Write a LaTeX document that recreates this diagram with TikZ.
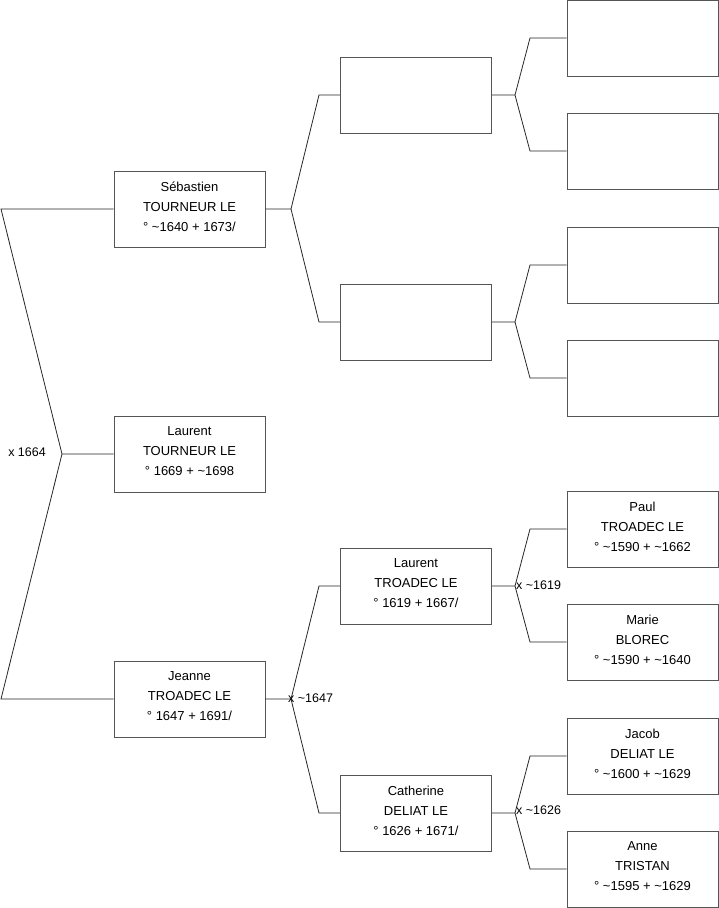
\documentclass[tikz,border=0pt]{standalone}
\usepackage{fontspec}
\setmainfont{Liberation Sans}
\newcommand{\lowpad}{\rule[-5pt]{0pt}{0pt}}
\begin{document}
\begin{tikzpicture}[x=1pt,y=-1pt,
  pbox/.style={draw={rgb,255:red,85;green,85;blue,85},line width=0.9pt,fill=white,
    minimum width=151pt,minimum height=76pt,inner sep=0pt,align=center,
    font=\fontsize{13}{20}\selectfont},
  conn/.style={draw=black!85,line width=0.8pt},
  mlabel/.style={inner sep=0pt,font=\fontsize{12.5}{14}\selectfont}]
\useasboundingbox (0,0) rectangle (719,908);
% generation 0
\node[pbox] (p0) at (189.5,454) {Laurent\\TOURNEUR LE\\° 1669 + \textasciitilde1698\lowpad};
% generation 1
\node[pbox] (p1) at (189.5,209) {Sébastien\\TOURNEUR LE\\° \textasciitilde1640 + 1673/\lowpad};
\node[pbox] (p2) at (189.5,699) {Jeanne\\TROADEC LE\\° 1647 + 1691/\lowpad};
% generation 2
\node[pbox] (p3) at (416,95) {};
\node[pbox] (p4) at (416,322) {};
\node[pbox] (p5) at (416,586) {Laurent\\TROADEC LE\\° 1619 + 1667/\lowpad};
\node[pbox] (p6) at (416,813) {Catherine\\DELIAT LE\\° 1626 + 1671/\lowpad};
% generation 3
\node[pbox] (p7) at (642.5,38) {};
\node[pbox] (p8) at (642.5,151) {};
\node[pbox] (p9) at (642.5,265) {};
\node[pbox] (p10) at (642.5,378) {};
\node[pbox] (p11) at (642.5,529) {Paul\\TROADEC LE\\° \textasciitilde1590 + \textasciitilde1662\lowpad};
\node[pbox] (p12) at (642.5,642) {Marie\\BLOREC\\° \textasciitilde1590 + \textasciitilde1640\lowpad};
\node[pbox] (p13) at (642.5,756) {Jacob\\DELIAT LE\\° \textasciitilde1600 + \textasciitilde1629\lowpad};
\node[pbox] (p14) at (642.5,869) {Anne\\TRISTAN\\° \textasciitilde1595 + \textasciitilde1629\lowpad};
% junction coordinates
\coordinate (v0) at (62,454);
\coordinate (v0a) at (1,209);
\coordinate (v0b) at (1,699);
\coordinate (v1) at (291,209);
\coordinate (v1a) at (319,95);
\coordinate (v1b) at (319,322);
\coordinate (v2) at (291,699);
\coordinate (v2a) at (319,586);
\coordinate (v2b) at (319,813);
\coordinate (v3) at (515,95);
\coordinate (v3a) at (530,38);
\coordinate (v3b) at (530,151);
\coordinate (v4) at (515,322);
\coordinate (v4a) at (530,265);
\coordinate (v4b) at (530,378);
\coordinate (v5) at (515,586);
\coordinate (v5a) at (530,529);
\coordinate (v5b) at (530,642);
\coordinate (v6) at (515,813);
\coordinate (v6a) at (530,756);
\coordinate (v6b) at (530,869);
% connectors
\draw[conn] (p0.west) -- (v0) -- (v0a) -- (p1.west);
\draw[conn] (v0) -- (v0b) -- (p2.west);
\draw[conn] (p1.east) -- (v1) -- (v1a) -- (p3.west);
\draw[conn] (v1) -- (v1b) -- (p4.west);
\draw[conn] (p2.east) -- (v2) -- (v2a) -- (p5.west);
\draw[conn] (v2) -- (v2b) -- (p6.west);
\draw[conn] (p3.east) -- (v3) -- (v3a) -- (p7.west);
\draw[conn] (v3) -- (v3b) -- (p8.west);
\draw[conn] (p4.east) -- (v4) -- (v4a) -- (p9.west);
\draw[conn] (v4) -- (v4b) -- (p10.west);
\draw[conn] (p5.east) -- (v5) -- (v5a) -- (p11.west);
\draw[conn] (v5) -- (v5b) -- (p12.west);
\draw[conn] (p6.east) -- (v6) -- (v6a) -- (p13.west);
\draw[conn] (v6) -- (v6b) -- (p14.west);
% marriage labels
\node[mlabel,anchor=east] (m0) at (46,452) {x 1664};
\node[mlabel,anchor=west] (m1) at (288,698) {x \textasciitilde1647};
\node[mlabel,anchor=west] (m2) at (516,585) {x \textasciitilde1619};
\node[mlabel,anchor=west] (m3) at (516,810) {x \textasciitilde1626};
\end{tikzpicture}
\end{document}
